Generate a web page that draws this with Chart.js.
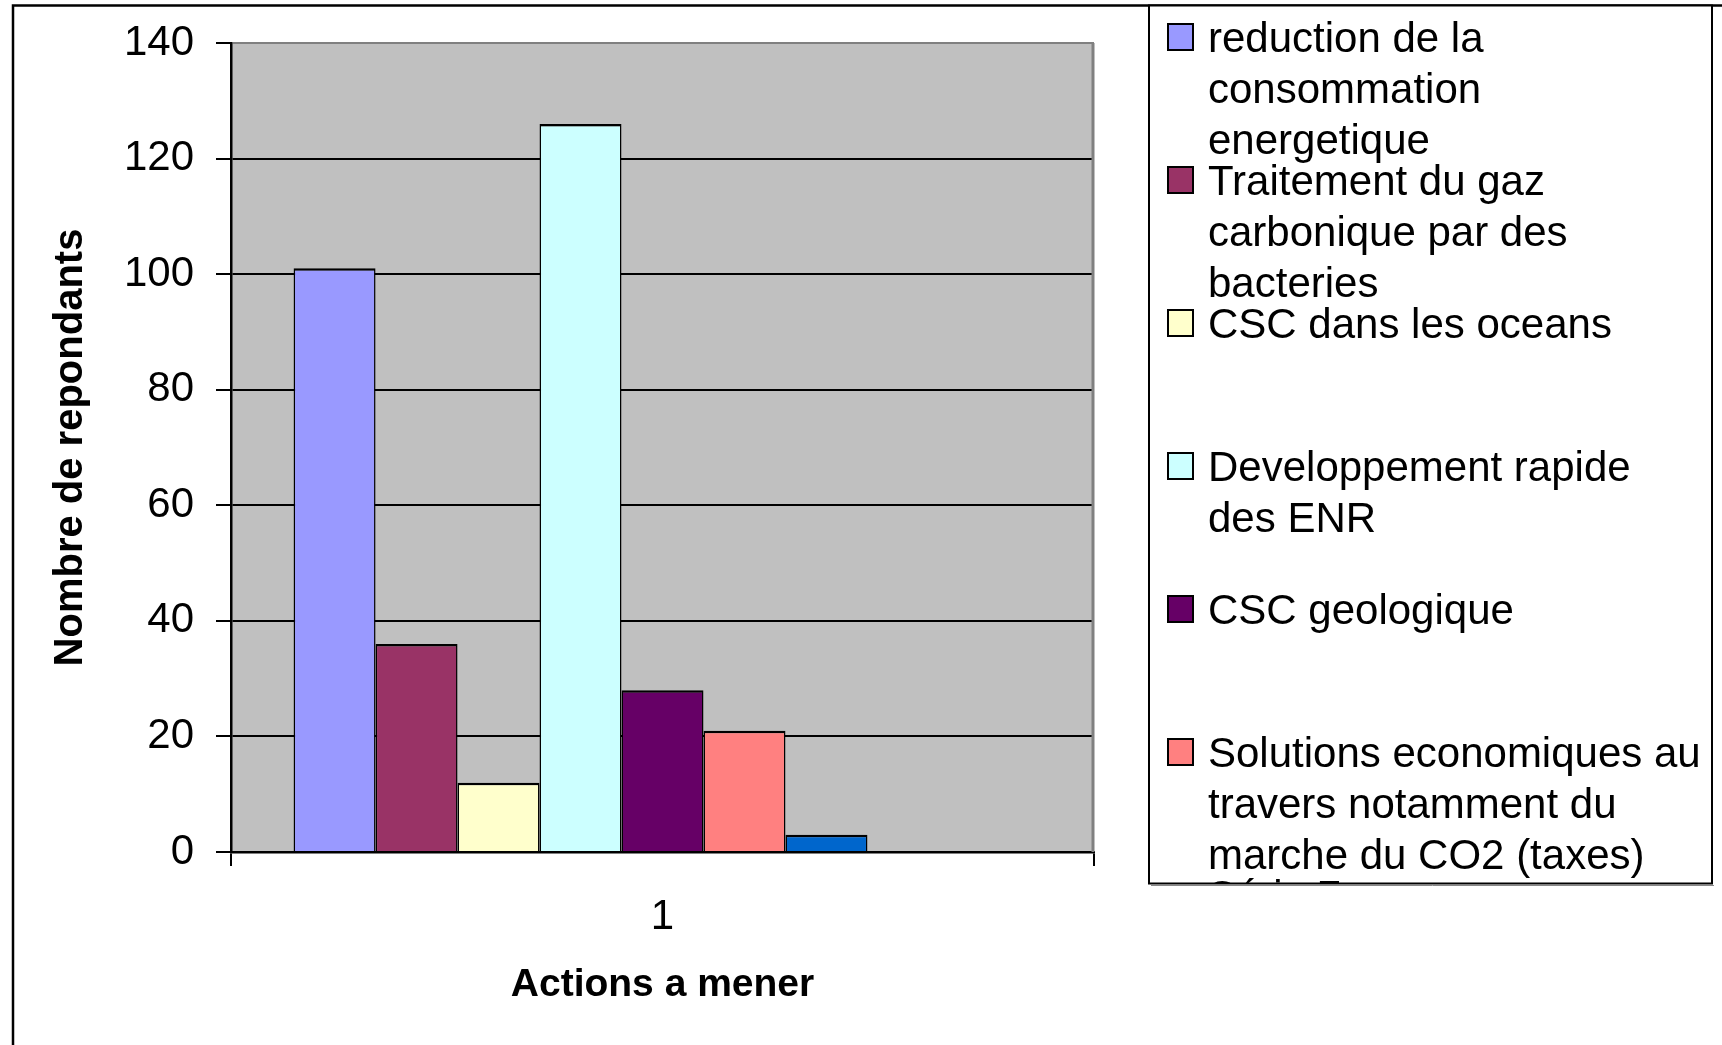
<!DOCTYPE html>
<html>
<head>
<meta charset="utf-8">
<script src="https://cdn.jsdelivr.net/npm/chart.js@4.4.1/dist/chart.umd.min.js"></script>
<style>
  html, body { margin: 0; padding: 0; background: #fff; }
  #wrap { width: 1722px; height: 1045px; position: relative; }
</style>
</head>
<body>
<div id="wrap"><canvas id="graphique"></canvas></div>
<script>
// donnees du graphique
const categories = ["1"];
const nomsSeries = [
  "reduction de la consommation energetique",
  "Traitement du gaz carbonique par des bacteries",
  "CSC dans les oceans",
  "Developpement rapide des ENR",
  "CSC geologique",
  "Solutions economiques au travers notamment du marche du CO2 (taxes)",
  "Série 7",
  "Série 8",
  "Série 9",
];
const valeursSeries = [101, 36, 12, 126, 28, 21, 3, 0, 0];
const couleursSeries = ["#9999FF", "#993366", "#FFFFCC", "#CCFFFF", "#660066", "#FF8080", "#0066CC", "#CCCCFF", "#000080"];
const axeY = { min: 0, max: 140, pas: 20 };

const POLICE = "'Liberation Sans', Arial, sans-serif";
Chart.defaults.font.family = POLICE;
Chart.defaults.color = "#000";

// fond gris de la zone de trace + cadre exterieur
const fondGraphique = {
  id: "fondGraphique",
  beforeDraw(chart) {
    const { ctx, chartArea: a } = chart;
    ctx.save();
    ctx.fillStyle = "#fff";
    ctx.fillRect(0, 0, chart.width, chart.height);
    ctx.fillStyle = "#C0C0C0";
    ctx.fillRect(a.left, a.top, a.right - a.left, a.bottom - a.top);
    // cadre exterieur (coupe a droite et en bas)
    ctx.strokeStyle = "#000";
    ctx.lineWidth = 2.5;
    ctx.beginPath();
    ctx.moveTo(13, chart.height + 5);
    ctx.lineTo(13, 5.5);
    ctx.lineTo(chart.width + 5, 5.5);
    ctx.stroke();
    ctx.restore();
  },
  beforeDatasetsDraw(chart) {
    const { ctx, chartArea: a } = chart;
    ctx.save();
    ctx.strokeStyle = "#808080";
    ctx.lineWidth = 3;
    ctx.beginPath();
    ctx.moveTo(a.right - 1, a.top);
    ctx.lineTo(a.right - 1, a.bottom);
    ctx.stroke();
    ctx.restore();
  },
};

// decoupe le texte en lignes selon la largeur max
function couperTexte(ctx, texte, largeurMax) {
  const mots = texte.split(" ");
  const lignes = [];
  let ligne = "";
  mots.forEach((mot) => {
    const essai = ligne ? ligne + " " + mot : mot;
    if (ctx.measureText(essai).width > largeurMax && ligne) {
      lignes.push(ligne);
      ligne = mot;
    } else {
      ligne = essai;
    }
  });
  if (ligne) lignes.push(ligne);
  return lignes;
}

// legende dessinee a la main (facon Excel, coupee en bas)
const legendeExcel = {
  id: "legendeExcel",
  afterDraw(chart) {
    const { ctx } = chart;
    const boite = { x: 1149, y: 5.5, w: 563, h: 878 };
    ctx.save();
    ctx.fillStyle = "#fff";
    ctx.fillRect(boite.x, boite.y, boite.w, boite.h);
    ctx.beginPath();
    ctx.rect(boite.x, boite.y, boite.w, boite.h);
    ctx.clip();
    ctx.font = "42px " + POLICE;
    ctx.textBaseline = "alphabetic";
    ctx.textAlign = "left";
    chart.data.datasets.forEach((ds, i) => {
      const base = 52 + 143 * i;
      // le carre n'est dessine que s'il tient dans la boite
      if (base - 2 <= boite.y + boite.h) {
        ctx.fillStyle = ds.backgroundColor;
        ctx.fillRect(1168, base - 28, 25, 26);
        ctx.strokeStyle = "#000";
        ctx.lineWidth = 2;
        ctx.strokeRect(1168, base - 28, 25, 26);
      }
      ctx.fillStyle = "#000";
      couperTexte(ctx, ds.label, 499).forEach((l, j) => {
        ctx.fillText(l, 1208, base + 51 * j);
      });
    });
    ctx.restore();
    ctx.save();
    ctx.strokeStyle = "#000";
    ctx.lineWidth = 2;
    ctx.strokeRect(boite.x, boite.y, boite.w, boite.h);
    ctx.strokeStyle = "#888";
    ctx.lineWidth = 1;
    ctx.beginPath();
    ctx.moveTo(boite.x + 2, boite.y + boite.h + 2);
    ctx.lineTo(boite.x + boite.w + 2, boite.y + boite.h + 2);
    ctx.stroke();
    ctx.restore();
  },
};

const datasets = nomsSeries.map((nom, i) => ({
  label: nom,
  data: [valeursSeries[i]],
  backgroundColor: couleursSeries[i],
  borderColor: "#000",
  borderWidth: { top: 2.5, left: 1.5, right: 1.5, bottom: 0 },
  borderSkipped: false,
  categoryPercentage: 0.855,
  barPercentage: 1,
}));

new Chart(document.getElementById("graphique"), {
  type: "bar",
  data: { labels: categories, datasets: datasets },
  plugins: [fondGraphique, legendeExcel],
  options: {
    responsive: true,
    maintainAspectRatio: false,
    animation: false,
    layout: { padding: { left: 0, top: 43, right: 628, bottom: 0 } },
    plugins: { legend: { display: false }, tooltip: { enabled: false } },
    scales: {
      x: {
        afterFit: (s) => { s.height = 193; },
        grid: { display: true, offset: true, drawOnChartArea: false, color: "#000", lineWidth: 2, tickLength: 14 },
        border: { display: true, color: "#000", width: 2.5 },
        ticks: { font: { size: 42 }, padding: 26, color: "#000" },
        title: {
          display: true,
          text: "Actions a mener",
          font: { size: 39, weight: "bold" },
          padding: { top: 0, bottom: 36 },
          color: "#000",
        },
      },
      y: {
        min: axeY.min,
        max: axeY.max,
        afterFit: (s) => { s.width = 231; },
        ticks: { stepSize: axeY.pas, font: { size: 42, lineHeight: 1 }, padding: 22, color: "#000" },
        grid: {
          color: (c) => (c.tick && c.tick.value === axeY.max ? "#808080" : "#000"),
          tickColor: "#000",
          lineWidth: 2,
          tickLength: 15,
        },
        border: { display: true, color: "#000", width: 2.5 },
        title: {
          display: true,
          text: "Nombre de repondants",
          font: { size: 40, weight: "bold" },
          padding: { top: 47, bottom: 0 },
          color: "#000",
        },
      },
    },
  },
});
</script>
</body>
</html>
